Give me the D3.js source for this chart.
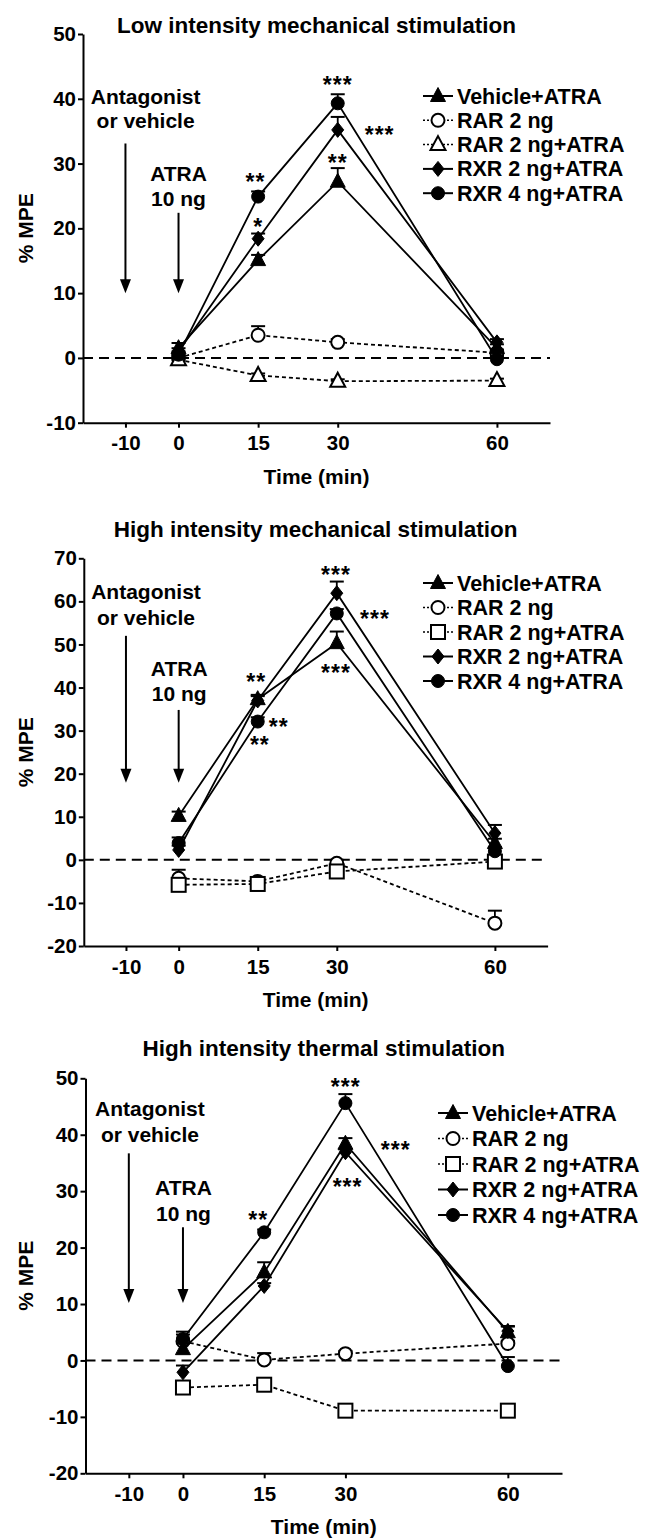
<!DOCTYPE html>
<html>
<head>
<meta charset="utf-8">
<script src="https://cdn.jsdelivr.net/npm/d3@7"></script>
<style>
  body { margin: 0; background: #fff; }
  text { font-family: "Liberation Sans", Arial, sans-serif; font-weight: bold; fill: #000; }
</style>
</head>
<body>
<svg id="chart" width="648" height="1538"></svg>
<script>
/* Data */
const times = [0, 15, 30, 60];
const xTicks = [-10, 0, 15, 30, 60];
const seriesNames = ["Vehicle+ATRA", "RAR 2 ng", "RAR 2 ng+ATRA", "RXR 2 ng+ATRA", "RXR 4 ng+ATRA"];

// Low intensity mechanical (rows follow seriesNames)
const lowMean = [
  [1.5, 15.1, 27.2, 1.5],
  [0.0, 3.5, 2.4, 0.8],
  [-0.3, -2.7, -3.6, -3.5],
  [1.0, 18.4, 35.2, 2.4],
  [0.5, 24.9, 39.3, -0.2]
];
const lowSem = [
  [0.8, 0.8, 2.1, 0.6],
  [0.5, 1.4, 0.5, 0.5],
  [0.3, 0.3, 0.3, 0.3],
  [0.5, 0.8, 2.0, 0.5],
  [0.5, 0.8, 1.4, 0.5]
];
const lowYTicks = [-10, 0, 10, 20, 30, 40, 50];
const lowStars = [[30, 42.9, "***"], [37.9, 35.2, "***"], [30, 30.9, "**"], [14.5, 28, "**"], [15, 21, "*"]];

// High intensity mechanical
const highMean = [
  [10.2, 37.3, 50.3, 3.9],
  [-4.3, -5.0, -0.8, -14.7],
  [-5.8, -5.6, -2.7, -0.4],
  [2.3, 37.0, 61.9, 6.2],
  [3.9, 32.1, 57.2, 2.0]
];
const highSem = [
  [1.0, 1.0, 2.7, 1.0],
  [2.0, 0.8, 0.8, 2.9],
  [0.5, 0.5, 0.5, 0.5],
  [1.0, 1.0, 2.7, 1.9],
  [1.3, 1.0, 1.0, 1.0]
];
const highYTicks = [-20, -10, 0, 10, 20, 30, 40, 50, 60, 70];
const highStars = [[29.85, 67.4, "***"], [37.25, 57.1, "***"], [29.85, 44.5, "***"], [14.7, 42.5, "**"], [19.0, 31.9, "**"], [15.4, 27.8, "**"]];

// High intensity thermal
const thermMean = [
  [2.0, 15.6, 38.4, 5.0],
  [3.4, 0.1, 1.2, 3.0],
  [-4.8, -4.3, -8.9, -8.9],
  [-2.1, 13.2, 36.9, 5.2],
  [3.8, 22.7, 45.6, -1.0]
];
const thermSem = [
  [1.0, 1.8, 1.0, 1.0],
  [1.7, 1.2, 0.5, 0.5],
  [0.5, 0.5, 0.5, 0.5],
  [1.2, 0.5, 0.5, 0.9],
  [0.8, 0.5, 1.6, 1.6]
];
const thermYTicks = [-20, -10, 0, 10, 20, 30, 40, 50];
const thermStars = [[30.05, 49.3, "***"], [39.3, 38.1, "***"], [30.4, 31.6, "***"], [13.9, 25.7, "**"]];

/* Styles */
const seriesFilled = [true, false, false, true, true];
const seriesDotted = [false, true, true, false, false];

const panels = [
  { title: "Low intensity mechanical stimulation", mean: lowMean, sem: lowSem, yTicks: lowYTicks, stars: lowStars,
    yDomain: [-10, 50], xRange: [83, 550], yRange: [422.7, 34], titleY: 33, openShape: "triangle",
    antag: [-6.2, 40.4, 36.7], atra: [0, 28.5, 24.6], arrow1: [33.1, 10], arrow2: [22.4, 10],
    legend: { x: 438, y: 96, dy: 24.3 } },
  { title: "High intensity mechanical stimulation", mean: highMean, sem: highSem, yTicks: highYTicks, stars: highStars,
    yDomain: [-20, 70], xRange: [83.8, 547.6], yRange: [946, 558.3], titleY: 537, openShape: "square",
    antag: [-6.2, 62.2, 56.3], atra: [0.1, 44.5, 38.7], arrow1: [52, 17.9], arrow2: [34.8, 17.9],
    legend: { x: 438, y: 583, dy: 24.5 } },
  { title: "High intensity thermal stimulation", mean: thermMean, sem: thermSem, yTicks: thermYTicks, stars: thermStars,
    yDomain: [-20, 50], xRange: [85.5, 562], yRange: [1473.3, 1078.3], titleY: 1056, openShape: "square",
    antag: [-6.1, 44.6, 40], atra: [0.1, 30.7, 26], arrow1: [36.7, 10.2], arrow2: [23.6, 10.2],
    legend: { x: 453, y: 1113, dy: 25.5 } }
];

const svg = d3.select("#chart");
svg.append("rect").attr("width", 648).attr("height", 1538).attr("fill", "#fff");

function drawMarker(g, shape, filled, cx, cy) {
  let m;
  if (shape === "circle") {
    m = g.append("circle").attr("cx", cx).attr("cy", cy).attr("r", 6.5);
  } else if (shape === "square") {
    m = g.append("rect").attr("x", cx - 7).attr("y", cy - 7).attr("width", 14).attr("height", 14);
  } else if (shape === "diamond") {
    m = g.append("path").attr("d", `M${cx},${cy - 7.5}L${cx + 6},${cy}L${cx},${cy + 7.5}L${cx - 6},${cy}Z`);
  } else {
    m = g.append("path").attr("d", `M${cx},${cy - 8.5}L${cx + 7.5},${cy + 5.5}L${cx - 7.5},${cy + 5.5}Z`);
  }
  m.attr("fill", filled ? "#000" : "#fff")
   .attr("stroke", "#000")
   .attr("stroke-width", filled ? 1 : 2);
}

function drawPanel(p) {
  const g = svg.append("g");
  const x = d3.scaleLinear().domain([-18, 70]).range(p.xRange);
  const y = d3.scaleLinear().domain(p.yDomain).range(p.yRange);
  const shapes = ["triangle", "circle", p.openShape, "diamond", "circle"];

  // title
  g.append("text")
    .attr("x", x(26)).attr("y", p.titleY)
    .attr("text-anchor", "middle").attr("font-size", 22.5)
    .text(p.title);

  // zero line
  g.append("line")
    .attr("x1", x(-18)).attr("x2", x(70))
    .attr("y1", y(0)).attr("y2", y(0))
    .attr("stroke", "#000").attr("stroke-width", 2)
    .attr("stroke-dasharray", "10,6");

  // axes
  const gx = g.append("g")
    .attr("transform", `translate(0,${p.yRange[0]})`)
    .call(d3.axisBottom(x).tickValues(xTicks).tickFormat(d => String(d))
      .tickSize(5).tickSizeOuter(0).tickPadding(8));
  const gy = g.append("g")
    .attr("transform", `translate(${p.xRange[0]},0)`)
    .call(d3.axisLeft(y).tickValues(p.yTicks).tickFormat(d => String(d))
      .tickSize(5).tickSizeOuter(0).tickPadding(2));
  [gx, gy].forEach(a => {
    a.attr("font-family", null).attr("font-size", null);
    a.selectAll("path, line").attr("stroke", "#000").attr("stroke-width", 2);
    a.selectAll("text").attr("font-size", 20.5).attr("fill", "#000");
  });

  // axis titles
  g.append("text")
    .attr("x", x(26)).attr("y", p.yRange[0] + 61)
    .attr("text-anchor", "middle").attr("font-size", 21)
    .text("Time (min)");
  const ym = (p.yRange[0] + p.yRange[1]) / 2;
  g.append("text")
    .attr("transform", `translate(33,${ym}) rotate(-90)`)
    .attr("text-anchor", "middle").attr("font-size", 21)
    .text("% MPE");

  // annotations
  const notes = [[p.antag[0], p.antag[1], "Antagonist"], [p.antag[0], p.antag[2], "or vehicle"],
                 [p.atra[0], p.atra[1], "ATRA"], [p.atra[0], p.atra[2], "10 ng"]];
  notes.forEach(n => {
    g.append("text")
      .attr("x", x(n[0])).attr("y", y(n[1]) + 7.5)
      .attr("text-anchor", "middle").attr("font-size", 21)
      .text(n[2]);
  });
  [[-10, p.arrow1], [0, p.arrow2]].forEach(a => {
    const ax = x(a[0]), y1 = y(a[1][0]), y2 = y(a[1][1]);
    g.append("line").attr("x1", ax).attr("x2", ax).attr("y1", y1).attr("y2", y2 - 12)
      .attr("stroke", "#000").attr("stroke-width", 2);
    g.append("path").attr("d", `M${ax - 5.5},${y2 - 14}L${ax + 5.5},${y2 - 14}L${ax},${y2}Z`).attr("fill", "#000");
  });

  // series: dotted first, then solid
  const order = [1, 2, 0, 3, 4];
  const line = d3.line().x(d => x(d.t)).y(d => y(d.v));
  order.forEach(i => {
    const pts = times.map((t, j) => ({ t: t, v: p.mean[i][j], e: p.sem[i][j] }));
    const s = g.append("g");
    s.append("path").datum(pts)
      .attr("d", line).attr("fill", "none").attr("stroke", "#000")
      .attr("stroke-width", 1.8)
      .attr("stroke-dasharray", seriesDotted[i] ? "4,3" : null);
    pts.forEach(d => {
      const cx = x(d.t), top = y(d.v + d.e);
      s.append("line").attr("x1", cx).attr("x2", cx).attr("y1", y(d.v)).attr("y2", top)
        .attr("stroke", "#000").attr("stroke-width", 1.8);
      s.append("line").attr("x1", cx - 7).attr("x2", cx + 7).attr("y1", top).attr("y2", top)
        .attr("stroke", "#000").attr("stroke-width", 2);
    });
    pts.forEach(d => drawMarker(s, shapes[i], seriesFilled[i], x(d.t), y(d.v)));
  });

  // significance stars
  p.stars.forEach(st => {
    g.append("text")
      .attr("x", x(st[0])).attr("y", y(st[1]) + 13)
      .attr("text-anchor", "middle").attr("font-size", 23)
      .attr("letter-spacing", 1)
      .text(st[2]);
  });

  // legend
  const L = p.legend;
  seriesNames.forEach((name, i) => {
    const ly = L.y + i * L.dy;
    g.append("line")
      .attr("x1", L.x - 15).attr("x2", L.x + 15).attr("y1", ly).attr("y2", ly)
      .attr("stroke", "#000").attr("stroke-width", seriesDotted[i] ? 1.5 : 2)
      .attr("stroke-dasharray", seriesDotted[i] ? "2,2" : null);
    drawMarker(g, shapes[i], seriesFilled[i], L.x, ly);
    g.append("text")
      .attr("x", L.x + 19).attr("y", ly + 7.5)
      .attr("font-size", 21.5)
      .text(name);
  });
}

panels.forEach(drawPanel);
</script>
</body>
</html>
